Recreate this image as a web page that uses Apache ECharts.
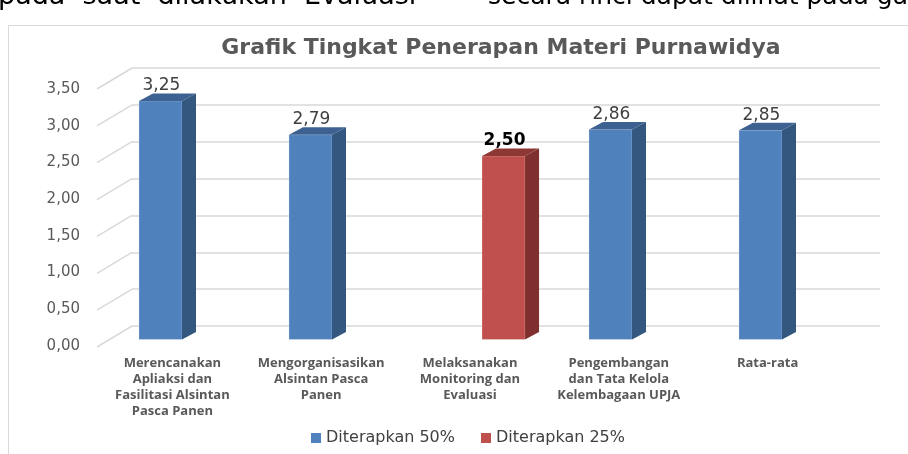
<!DOCTYPE html>
<html>
<head>
<meta charset="utf-8">
<script src="https://cdn.jsdelivr.net/npm/echarts@6/dist/echarts.min.js"></script>
<style>
  html, body { margin: 0; padding: 0; background: #fff; }
  #chart { width: 908px; height: 454px; }
</style>
</head>
<body>
<div id="chart"></div>
<script>
const CATEGORIES = [
  'Merencanakan\nApliaksi dan\nFasilitasi Alsintan\nPasca Panen',
  'Mengorganisasikan\nAlsintan Pasca\nPanen',
  'Melaksanakan\nMonitoring dan\nEvaluasi',
  'Pengembangan\ndan Tata Kelola\nKelembagaan UPJA',
  'Rata-rata'
];
const APPLIED_50 = [3.25, 2.79, '-', 2.86, 2.85];
const APPLIED_25 = ['-', '-', 2.50, '-', '-'];
const Y_TICKS = [0, 0.5, 1, 1.5, 2, 2.5, 3, 3.5];

const fmt = (v) => v.toFixed(2).replace('.', ',');

// oblique depth of a bar and of the side wall
const DX = 14, DY = -7.5;
const WALL_DX = -35, WALL_DY = 21;

function makeBar(slot, face, side, top, labelColor, labelWeight) {
  return function (params, api) {
    const v = api.value(1);
    if (isNaN(v)) return;
    const idx = api.value(0);
    const band = api.size([1, 0])[0];
    const w = band * 0.287;
    const p = api.coord([idx, v]);
    const b = api.coord([idx, 0]);
    const x0 = p[0] + slot * w / 2 - w / 2;
    const x1 = x0 + w;
    return {
      type: 'group',
      children: [
        { type: 'rect', shape: { x: x0, y: p[1], width: w, height: b[1] - p[1] },
          style: { fill: face, stroke: 'rgba(255,255,255,0.25)', lineWidth: 1 } },
        { type: 'polygon', shape: { points: [[x1, p[1]], [x1 + DX, p[1] + DY], [x1 + DX, b[1] + DY], [x1, b[1]]] },
          style: { fill: side } },
        { type: 'polygon', shape: { points: [[x0, p[1]], [x0 + DX, p[1] + DY], [x1 + DX, p[1] + DY], [x1, p[1]]] },
          style: { fill: top } },
        { type: 'text', x: x0 + w / 2 + 1, y: p[1] - 15,
          style: { text: fmt(v), align: 'center', verticalAlign: 'middle',
                   font: labelWeight + ' 17px "DejaVu Sans"', fill: labelColor } }
      ]
    };
  };
}

const chart = echarts.init(document.getElementById('chart'), null, { renderer: 'canvas' });

chart.setOption({
  animation: false,
  title: {
    text: 'Grafik Tingkat Penerapan Materi Purnawidya',
    left: 496, top: 32, textAlign: 'center',
    textStyle: { fontFamily: 'DejaVu Sans', fontSize: 22, fontWeight: 'bold', color: '#595959' }
  },
  graphic: [
    { type: 'text', left: -2, top: -17,
      style: { text: 'pada  saat  dilakukan  Evaluasi', font: '27px "DejaVu Sans"', fill: '#000' } },
    { type: 'text', left: 488, top: -15,
      style: { text: 'secara rinci dapat dilihat pada gambar', font: '25px "DejaVu Sans"', fill: '#000' } },
    { type: 'rect', shape: { x: 8.5, y: 25.5, width: 920, height: 440 },
      style: { fill: 'none', stroke: '#d9d9d9', lineWidth: 1 } }
  ],
  legend: {
    bottom: 3, left: 306, itemWidth: 10, itemHeight: 10, itemGap: 26, icon: 'rect',
    textStyle: { fontFamily: 'DejaVu Sans', fontSize: 16, color: '#404040' },
    data: ['Diterapkan 50%', 'Diterapkan 25%']
  },
  grid: [
    { left: 132, right: 28, top: 68, bottom: 128 },      // back wall
    { left: 107, right: 51, top: 82.6, bottom: 114.5 },  // bar front plane
    { left: 98, right: 66, top: 89, bottom: 108 }        // front plane (labels)
  ],
  xAxis: [
    { gridIndex: 0, type: 'value', min: 0, max: 1, show: false },
    { gridIndex: 1, type: 'category', data: CATEGORIES, show: false },
    { gridIndex: 2, type: 'category', data: CATEGORIES,
      axisLine: { show: false }, axisTick: { show: false },
      axisLabel: { interval: 0, margin: 9, lineHeight: 16, color: '#595959',
                   fontFamily: 'Open Sans', fontWeight: 'bold', fontSize: 13 } }
  ],
  yAxis: [
    { gridIndex: 0, type: 'value', min: 0, max: 3.5, interval: 0.5,
      axisLabel: { show: false }, axisLine: { show: false }, axisTick: { show: false },
      splitLine: { lineStyle: { color: '#d9d9d9', width: 1.5 } } },
    { gridIndex: 1, type: 'value', min: 0, max: 3.5, interval: 0.5, show: false },
    { gridIndex: 2, type: 'value', min: 0, max: 3.5, interval: 0.5,
      axisLine: { show: false }, axisTick: { show: false }, splitLine: { show: false },
      axisLabel: { margin: 18, formatter: fmt, color: '#595959',
                   fontFamily: 'DejaVu Sans', fontSize: 15 } }
  ],
  series: [
    {
      name: 'wall', type: 'custom', xAxisIndex: 0, yAxisIndex: 0, silent: true,
      data: Y_TICKS.map((t) => [0, t]),
      renderItem: (params, api) => {
        const p = api.coord([0, api.value(1)]);
        return { type: 'line',
                 shape: { x1: p[0], y1: p[1], x2: p[0] + WALL_DX, y2: p[1] + WALL_DY },
                 style: { stroke: '#d9d9d9', lineWidth: 1.5 } };
      }
    },
    {
      name: 'Diterapkan 50%', type: 'custom', xAxisIndex: 1, yAxisIndex: 1,
      itemStyle: { color: '#4f81bd' },
      data: APPLIED_50.map((v, i) => [i, v]),
      renderItem: makeBar(-1, '#4f81bd', '#34577f', '#3d6292', '#404040', 'normal')
    },
    {
      name: 'Diterapkan 25%', type: 'custom', xAxisIndex: 1, yAxisIndex: 1,
      itemStyle: { color: '#c0504d' },
      data: APPLIED_25.map((v, i) => [i, v]),
      renderItem: makeBar(1, '#c0504d', '#7f302e', '#8e3835', '#000', 'bold')
    }
  ]
});
</script>
</body>
</html>
